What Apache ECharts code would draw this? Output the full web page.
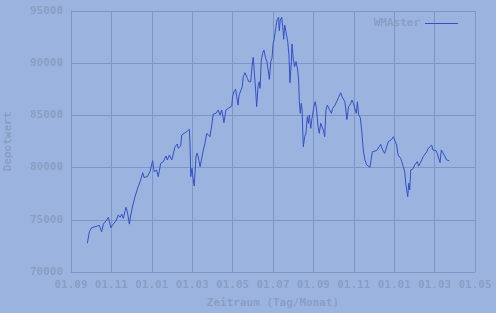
<!DOCTYPE html>
<html>
<head>
<meta charset="utf-8">
<script src="https://cdn.jsdelivr.net/npm/echarts@6/dist/echarts.min.js"></script>
<style>
html,body{margin:0;padding:0;background:#9ab4df;}
#c{width:496px;height:313px;}
</style>
</head>
<body>
<div id="c"></div>
<script>
// x positions: months since 01.09 (first tick)
const monthPos = [0.81,0.91,1.02,1.19,1.30,1.40,1.52,1.60,1.77,1.85,1.97,2.09,2.23,2.34,2.43,2.51,2.59,2.72,2.79,2.89,2.96,3.05,3.17,3.28,3.42,3.55,3.61,3.78,3.91,4.04,4.12,4.24,4.32,4.44,4.57,4.70,4.77,4.87,4.99,5.15,5.26,5.31,5.43,5.48,5.59,5.73,5.86,5.89,5.93,5.99,6.05,6.10,6.19,6.25,6.32,6.39,6.52,6.63,6.72,6.80,6.88,6.97,7.04,7.18,7.29,7.38,7.46,7.54,7.57,7.67,7.79,7.87,7.96,8.00,8.07,8.15,8.20,8.27,8.32,8.40,8.48,8.53,8.61,8.66,8.73,8.80,8.90,8.96,9.02,9.09,9.14,9.19,9.26,9.32,9.36,9.42,9.49,9.55,9.60,9.64,9.70,9.77,9.82,9.89,9.95,10.01,10.06,10.13,10.21,10.28,10.31,10.36,10.43,10.48,10.53,10.58,10.64,10.73,10.79,10.84,10.91,10.94,11.00,11.07,11.14,11.22,11.27,11.30,11.35,11.40,11.44,11.50,11.57,11.63,11.70,11.75,11.80,11.87,11.93,12.03,12.09,12.16,12.23,12.29,12.36,12.43,12.49,12.56,12.62,12.69,12.76,12.82,12.89,12.96,13.07,13.15,13.24,13.35,13.42,13.48,13.56,13.66,13.74,13.84,13.91,13.98,14.04,14.12,14.18,14.24,14.32,14.39,14.47,14.55,14.64,14.72,14.80,14.87,14.92,15.00,15.13,15.26,15.33,15.43,15.53,15.63,15.71,15.79,15.88,15.96,16.05,16.12,16.19,16.25,16.32,16.39,16.45,16.52,16.57,16.62,16.67,16.72,16.77,16.82,16.88,16.95,17.01,17.08,17.14,17.21,17.28,17.36,17.44,17.52,17.61,17.69,17.77,17.86,17.91,17.97,18.07,18.13,18.20,18.27,18.33,18.40,18.47,18.53,18.60,18.66,18.73,18.76];
const depotwert = [72750,73860,74240,74340,74400,74470,73860,74590,74980,75240,74240,74590,74910,75460,75240,75550,75140,76200,75780,74590,75460,76320,77210,77920,78650,79510,79070,79130,79610,80660,79610,79770,79130,80410,80570,81110,80730,81210,80730,82000,82260,81850,82070,83120,83280,83440,83670,82330,79130,79930,78810,78240,81110,81390,80810,80090,81390,82330,83280,83440,82960,84080,85130,85200,85520,85040,85520,84720,84300,85520,85680,85840,85900,86790,87270,87500,86790,85990,86950,87110,87750,88710,89090,89280,88550,88230,88230,89670,90560,90470,87430,85840,87750,88230,87590,90300,90950,91260,91420,90470,90150,90240,88450,90150,90470,91910,92290,93340,94200,94400,93110,94140,94400,93560,92290,93660,93020,92060,90790,88130,90150,91840,90470,89670,90150,89350,88390,86470,85200,86160,85520,82000,82960,83280,84880,84240,85040,83760,84720,85900,86310,85520,83920,83280,84240,84300,83600,82960,85520,85990,85680,85840,85200,85680,85990,86310,86700,87170,86790,86630,86300,84600,85840,86100,86470,86160,86250,85200,86310,85040,84800,83600,81690,80730,80250,80410,80030,80150,81520,81690,81630,82000,82230,81690,81370,82000,82490,82550,82710,82960,82810,82160,81210,81370,80890,81050,80090,79610,78500,77860,77210,78500,77860,79770,79610,79930,80250,80090,80570,80140,80250,80730,81050,81210,81520,81850,81690,82160,81690,81520,81630,81370,81210,80480,81690,81630,81210,81370,80730,80890,80660,80630];
const tickLabels = ['01.09','01.11','01.01','01.03','01.05','01.07','01.09','01.11','01.01','01.03','01.05'];
const seriesName = 'WMAster';

const textColor = '#8a9dc4';
const gridColor = '#7e96c4';
const lineColor = '#3450c6';
const font = 'DejaVu Sans Mono';

const chart = echarts.init(document.getElementById('c'), null, {renderer: 'canvas'});
chart.setOption({
  backgroundColor: '#9ab4df',
  animation: false,
  grid: {left: 71, right: 21, top: 11, bottom: 41, containLabel: false, outerBoundsMode: 'none'},
  legend: {
    data: [{name: seriesName, icon: 'rect'}], right: 33, top: 13, align: 'right',
    itemWidth: 33, itemHeight: 1, itemGap: 10,
    itemStyle: {color: lineColor},
    textStyle: {color: textColor, fontFamily: font, fontSize: 11, fontWeight: 'bold'}
  },
  xAxis: {
    type: 'value', min: 0, max: 20, interval: 2,
    name: 'Zeitraum (Tag/Monat)', nameLocation: 'middle', nameGap: 26,
    nameTextStyle: {color: textColor, fontFamily: font, fontSize: 11, fontWeight: 'bold'},
    axisLine: {show: true, lineStyle: {color: gridColor, width: 1}},
    axisTick: {show: false},
    axisLabel: {
      color: textColor, fontFamily: font, fontSize: 11, fontWeight: 'bold', margin: 8,
      formatter: v => tickLabels[Math.round(v / 2)]
    },
    splitLine: {show: true, lineStyle: {color: gridColor, width: 1}}
  },
  yAxis: {
    type: 'value', min: 70000, max: 95000, interval: 5000,
    name: 'Depotwert', nameLocation: 'middle', nameGap: 57,
    nameTextStyle: {color: textColor, fontFamily: font, fontSize: 11, fontWeight: 'bold'},
    axisLine: {show: true, lineStyle: {color: gridColor, width: 1}},
    axisTick: {show: false},
    axisLabel: {color: textColor, fontFamily: font, fontSize: 11, fontWeight: 'bold', margin: 8,
      formatter: v => String(v)},
    splitLine: {show: true, lineStyle: {color: gridColor, width: 1}}
  },
  series: [{
    name: seriesName, type: 'line', symbol: 'none', showSymbol: false,
    lineStyle: {color: lineColor, width: 1}, itemStyle: {color: lineColor},
    data: monthPos.map((m, i) => [m, depotwert[i]])
  }]
});
</script>
</body>
</html>
